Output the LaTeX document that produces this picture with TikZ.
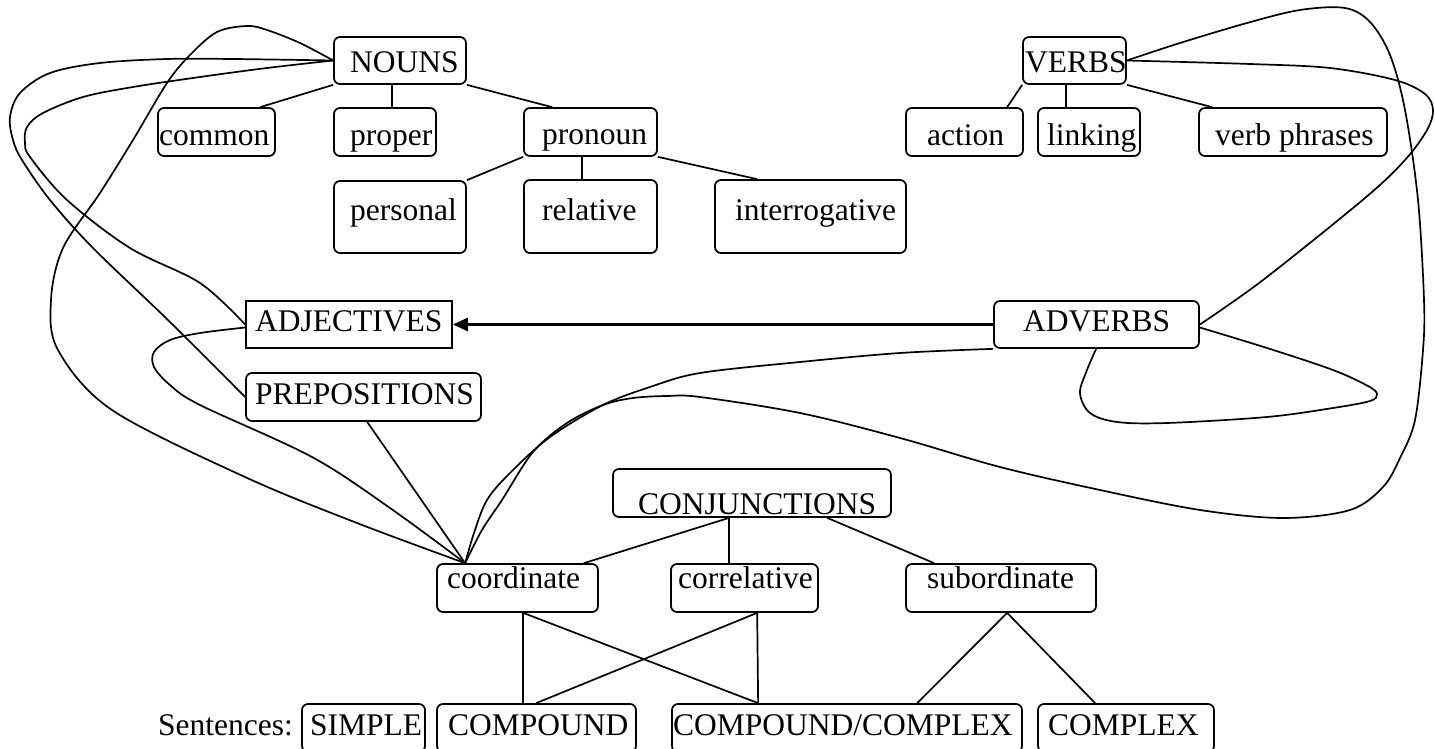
\documentclass[tikz,border=0pt]{standalone}
\usepackage{fontspec}
\setmainfont{Liberation Serif}
\usetikzlibrary{arrows.meta}
\tikzset{
  boxr/.style={draw, line width=1.7pt, rounded corners=6pt, inner sep=0pt},
  boxs/.style={draw, line width=1.7pt, inner sep=0pt},
  lbl/.style={inner sep=0pt, font=\fontsize{31.5}{36}\selectfont},
  edge/.style={line width=1.7pt},
  curve/.style={smooth, tension=0.55},
  arr/.style={line width=2.6pt, -{Triangle[length=15pt,width=13pt]}}
}
% name, style, x1, y1, w, h, text x, baseline, text
\newcommand\mybx[9]{%
  \node[#2, minimum width=#5pt, minimum height=#6pt] (#1) at ({#3+#5/2},{#4+#6/2}) {};
  \node[lbl, anchor=base west] (#1t) at (#7,#8) {#9};
}
\begin{document}
\begin{tikzpicture}[x=1pt,y=-1pt]
\clip (0,0) rectangle (1435,749);
% top left
\mybx{nouns}{boxr}{334}{37}{132}{47}{350}{73}{NOUNS}
\mybx{common}{boxr}{158}{108}{117}{48}{159}{146}{common}
\mybx{proper}{boxr}{334}{108}{102}{48}{350}{146}{proper}
\mybx{pronoun}{boxr}{524}{108}{133}{48}{542}{145}{pronoun}
\mybx{personal}{boxr}{334}{181}{132}{72}{350}{220}{personal}
\mybx{relative}{boxr}{524}{180}{133}{73}{542}{220}{relative}
\mybx{interrog}{boxr}{715}{180}{191}{73}{735}{220}{interrogative}
% top right
\mybx{verbs}{boxr}{1023}{37}{103}{47}{1025}{73}{VERBS}
\mybx{action}{boxr}{906}{108}{117}{48}{927}{146}{action}
\mybx{linking}{boxr}{1038}{108}{102}{48}{1047}{146}{linking}
\mybx{verbphr}{boxr}{1199}{108}{188}{48}{1215}{146}{verb phrases}
% middle
\mybx{adj}{boxs}{246}{301}{206}{47}{255}{331}{ADJECTIVES}
\mybx{prep}{boxr}{246}{373}{235}{48}{255}{404}{PREPOSITIONS}
\mybx{adverbs}{boxr}{994}{301}{205}{47}{1023}{331}{ADVERBS}
% conjunctions
\mybx{conj}{boxr}{613}{469}{278}{48}{638}{514}{CONJUNCTIONS}
\mybx{coord}{boxr}{437}{564}{161}{48}{447}{588}{coordinate}
\mybx{correl}{boxr}{671}{564}{147}{48}{678}{588}{correlative}
\mybx{subord}{boxr}{906}{564}{190}{48}{927}{588}{subordinate}
% sentences
\node[lbl, anchor=base west] (sent) at (158,735) {Sentences:};
\mybx{simple}{boxr}{302}{704}{123}{48}{310}{735}{SIMPLE}
\mybx{compound}{boxr}{437}{704}{199}{48}{448}{735}{COMPOUND}
\mybx{cc}{boxr}{672}{704}{350}{48}{673}{735}{COMPOUND/COMPLEX}
\mybx{complex}{boxr}{1038}{704}{176}{48}{1048}{735}{COMPLEX}

% connection points
\coordinate (cv) at ([xshift=29pt]coord.north west);
\coordinate (cjb) at ([xshift=117pt]conj.south west);
\coordinate (cob) at ([xshift=87pt]coord.south west);
\coordinate (crb) at ([xshift=87pt]correl.south west);
\coordinate (sbb) at ([xshift=102pt]subord.south west);
\coordinate (cct) at ([xshift=87pt]cc.north west);

% straight edges
\draw[edge] (nouns.south west) -- ([xshift=103pt]common.north west);
\draw[edge] ([xshift=59pt]nouns.south west) -- ([xshift=59pt]proper.north west);
\draw[edge] (nouns.south east) -- ([xshift=29pt]pronoun.north west);
\draw[edge] (pronoun.south west) -- (personal.north east);
\draw[edge] ([xshift=59pt]pronoun.south west) -- ([xshift=59pt]relative.north west);
\draw[edge] (pronoun.south east) -- ([xshift=43pt]interrog.north west);
\draw[edge] (verbs.south west) -- ([xshift=102pt]action.north west);
\draw[edge] ([xshift=44pt]verbs.south west) -- ([xshift=29pt]linking.north west);
\draw[edge] (verbs.south east) -- ([xshift=14pt]verbphr.north west);
\draw[edge] (cjb) -- ([xshift=-15pt]coord.north east);
\draw[edge] (cjb) -- ([xshift=59pt]correl.north west);
\draw[edge] ([xshift=215pt]conj.south west) -- ([xshift=29pt]subord.north west);
\draw[edge] (cob) -- ([xshift=87pt]compound.north west);
\draw[edge] (cob) -- (cct);
\draw[edge] (crb) -- (cct);
\draw[edge] (crb) -- ([xshift=100pt]compound.north west);
\draw[edge] (sbb) -- ([xshift=246pt]cc.north west);
\draw[edge] (sbb) -- ([xshift=58pt]complex.north west);
\draw[edge] ([xshift=122pt]prep.south west) -- (cv);

% arrow
\draw[arr] (adverbs.west) -- (adj.east);

% curves
\draw[edge] plot[curve] coordinates {(nouns.west) (300,43) (267,30) (247,26) (217,32) (190,55) (167,83) (133,140) (100,193) (63,248) (51,300) (58,350) (112,410) (245,477) (357,523) (cv)};
\draw[edge] plot[curve] coordinates {(nouns.west) (233,59) (167,59) (100,63) (50,73) (20,93) (10,117) (13,140) (22,160) (50,200) (93,248) (170,322) (prep.west)};
\draw[edge] plot[curve] coordinates {(nouns.west) (267,68) (200,77) (133,87) (83,97) (43,113) (27,127) (25,143) (30,157) (67,200) (130,248) (200,283) (adj.west)};
\draw[edge] plot[curve] coordinates {([yshift=-3pt]adj.west) (200,333) (170,340) (154,352) (154,367) (170,385) (200,405) (312,457) (390,508) (cv)};
\draw[edge] plot[curve] coordinates {(adverbs.south west) (900,353) (800,362) (700,373) (650,387) (603,405) (550,437) (510,473) (487,500) (474,533) (cv)};
\draw[edge] plot[curve] coordinates {(cv) (482,530) (502,500) (533,452) (567,423) (603,405) (633,398) (667,396) (700,397) (800,413) (900,438) (1000,467) (1100,490) (1200,510) (1283,518) (1350,510) (1383,487) (1400,458) (1415,420) (1423,350) (1424,300) (1418,200) (1405,110) (1390,55) (1370,22) (1345,8) (1300,10) (1247,23) (1180,43) (verbs.east)};
\draw[edge] plot[curve] coordinates {(verbs.east) (1250,64) (1330,68) (1395,80) (1425,94) (1433,110) (1427,130) (1405,160) (1365,198) (1263,280) (adverbs.east)};
\draw[edge] plot[curve] coordinates {([yshift=-3pt]adverbs.east) (1267,348) (1333,370) (1368,386) (1377,394) (1370,401) (1333,408) (1267,417) (1167,423) (1117,422) (1090,413) (1080,393) (1087,370) ([xshift=103pt]adverbs.south west)};
\end{tikzpicture}
\end{document}
